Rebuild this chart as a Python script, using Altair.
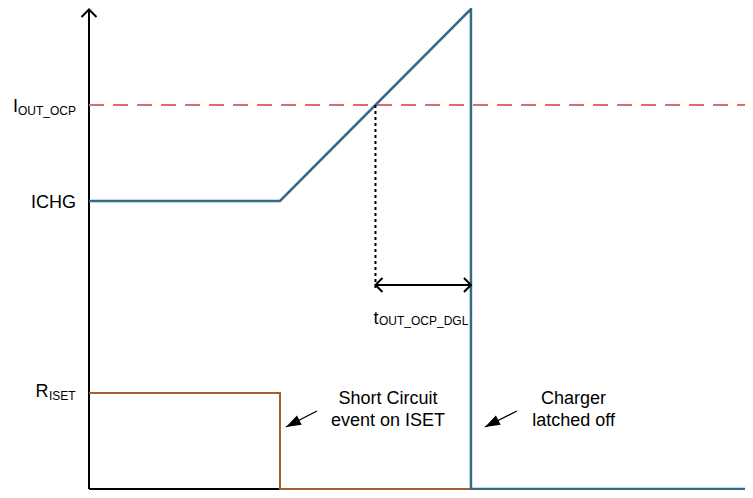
import altair as alt
import pandas as pd

# ---- signal data (time in arbitrary units, levels in arbitrary units) ----
blue_t = [0, 4, 8, 8, 13.74]         # charge current waveform
blue_i = [3, 3, 5, 0, 0]
orange_t = [0, 4, 4, 8]              # RISET waveform
orange_r = [1, 1, 0, 0]
ocp_level = 4
t_cross = 6                          # current crosses IOUT_OCP
t_trip = 8                           # charger latches off
t_end = 13.74
y_top = 5.0104
axis_top = 4.995
dgl_y = 2.125
dotted_bottom = 2.08

# ---- labels ----
left_text = ["I", "OUT_OCP", "ICHG", "R", "ISET", "t", "OUT_OCP_DGL"]
left_x = [-1.592, -1.487, -1.215, -1.120, -0.838, 5.958, 6.073]
left_y = [3.927, 3.896, 2.932, 0.958, 0.927, 1.719, 1.708]
left_size = [18, 12, 18, 18, 12, 18, 12]

note_text = ["Short Circuit", "event on ISET", "Charger", "latched off"]
note_x = [6.262, 6.262, 10.15, 10.15]
note_y = [0.885, 0.656, 0.885, 0.656]

# annotation arrows: tail -> tip
arrow_tail_x = [4.775, 8.963]
arrow_tail_y = [0.8125, 0.8125]
arrow_tip_x = [4.126, 8.293]
arrow_tip_y = [0.646, 0.646]

BLUE = "#346A86"
ORANGE = "#A45F33"
RED = "#E06A6A"
FONT = "Liberation Sans"

xs = alt.Scale(domain=[0, t_end], nice=False, zero=False)
ys = alt.Scale(domain=[0, y_top], nice=False, zero=False)


def X(f="x"):
    return alt.X(f"{f}:Q", scale=xs, axis=None)


def Y(f="y"):
    return alt.Y(f"{f}:Q", scale=ys, axis=None)


axes_df = pd.DataFrame({"x": [0, 0], "x2": [0, t_end], "y": [0, 0], "y2": [axis_top, 0]})
axes = alt.Chart(axes_df).mark_rule(color="black", strokeWidth=2).encode(
    x=X(), x2="x2:Q", y=Y(), y2="y2:Q")

yarrow = alt.Chart(pd.DataFrame({"x": [0], "y": [axis_top]})).mark_point(
    shape="M-1,1L0,0L1,1", size=225, filled=False, color="black",
    strokeWidth=2, opacity=1).encode(x=X(), y=Y())

ocp = alt.Chart(pd.DataFrame({"x": [0], "x2": [t_end], "y": [ocp_level]})).mark_rule(
    color=RED, strokeWidth=2, strokeDash=[15, 9]).encode(x=X(), x2="x2:Q", y=Y())

orange = alt.Chart(pd.DataFrame({"x": orange_t, "y": orange_r, "o": range(len(orange_t))})).mark_line(
    color=ORANGE, strokeWidth=2).encode(x=X(), y=Y(), order="o:Q")

blue = alt.Chart(pd.DataFrame({"x": blue_t, "y": blue_i, "o": range(len(blue_t))})).mark_line(
    color=BLUE, strokeWidth=2.5).encode(x=X(), y=Y(), order="o:Q")

dotted = alt.Chart(pd.DataFrame({"x": [t_cross], "y": [ocp_level], "y2": [dotted_bottom]})).mark_rule(
    color="black", strokeWidth=2, strokeDash=[3, 3]).encode(x=X(), y=Y(), y2="y2:Q")

dgl = alt.Chart(pd.DataFrame({"x": [t_cross], "x2": [t_trip], "y": [dgl_y]})).mark_rule(
    color="black", strokeWidth=2).encode(x=X(), x2="x2:Q", y=Y())
dgl_left = alt.Chart(pd.DataFrame({"x": [t_cross], "y": [dgl_y]})).mark_point(
    shape="M1,-1L0,0L1,1", size=196, filled=False, color="black", strokeWidth=2,
    opacity=1).encode(x=X(), y=Y())
dgl_right = alt.Chart(pd.DataFrame({"x": [t_trip], "y": [dgl_y]})).mark_point(
    shape="M-1,-1L0,0L-1,1", size=196, filled=False, color="black", strokeWidth=2,
    opacity=1).encode(x=X(), y=Y())

arr_df = pd.DataFrame({"x": arrow_tail_x, "y": arrow_tail_y, "x2": arrow_tip_x, "y2": arrow_tip_y})
arr_lines = alt.Chart(arr_df).mark_rule(color="black", strokeWidth=1.3).encode(
    x=X(), y=Y(), x2="x2:Q", y2="y2:Q")
arr_heads = alt.Chart(pd.DataFrame({"x": arrow_tip_x, "y": arrow_tip_y})).mark_point(
    shape="M0,0L1.05,-0.148L0.728,-0.77Z", size=900, filled=True, color="black",
    opacity=1, strokeWidth=0).encode(x=X(), y=Y())

labels = alt.Chart(pd.DataFrame({"t": left_text, "x": left_x, "y": left_y, "s": left_size})).mark_text(
    align="left", baseline="alphabetic", font=FONT, color="black").encode(
    x=X(), y=Y(), text="t:N", size=alt.Size("s:Q", scale=None, legend=None))

notes = alt.Chart(pd.DataFrame({"t": note_text, "x": note_x, "y": note_y})).mark_text(
    align="center", baseline="alphabetic", font=FONT, fontSize=18, color="black").encode(
    x=X(), y=Y(), text="t:N")

chart = alt.layer(
    axes, ocp, orange, blue, dotted, dgl, dgl_left, dgl_right, yarrow,
    arr_lines, arr_heads, labels, notes
).properties(
    width=656, height=481,
    autosize=alt.AutoSizeParams(type="none"),
    padding={"left": 81, "top": 0, "right": 0, "bottom": 1},
    background="white",
).configure_view(stroke=None)

chart.save("out.html", embed_options={"renderer": "svg", "actions": False})
